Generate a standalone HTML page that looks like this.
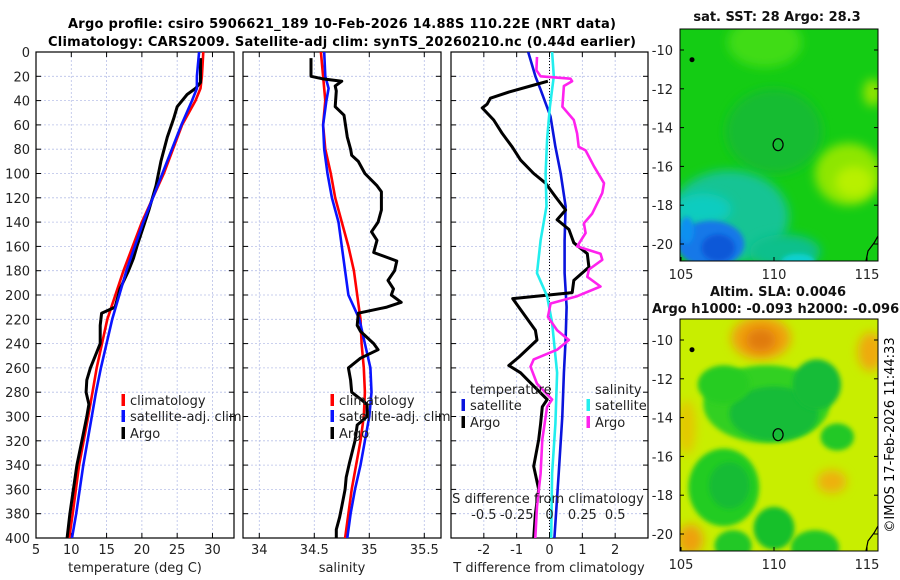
<!DOCTYPE html>
<html><head><meta charset="utf-8">
<style>
html,body{margin:0;padding:0;background:#fff;}
svg{display:block;font-family:"DejaVu Sans","Liberation Sans",sans-serif;}
</style></head>
<body>
<svg id="fig" width="900" height="580" viewBox="0 0 900 580" xmlns="http://www.w3.org/2000/svg">
<defs>
<clipPath id="cp1"><rect x="36" y="52" width="198" height="486"/></clipPath>
<clipPath id="cp2"><rect x="243" y="52" width="198" height="486"/></clipPath>
<clipPath id="cp3"><rect x="451" y="52" width="197" height="486"/></clipPath>
<clipPath id="cpm1"><rect x="680" y="29" width="198" height="232"/></clipPath>
<clipPath id="cpm2"><rect x="680" y="319" width="198" height="232"/></clipPath>
<filter id="bl" x="-50%" y="-50%" width="200%" height="200%"><feGaussianBlur stdDeviation="5"/></filter>
<filter id="bl2" x="-50%" y="-50%" width="200%" height="200%"><feGaussianBlur stdDeviation="2.5"/></filter>
</defs>
<text x="342" y="28" text-anchor="middle" font-weight="bold" font-size="13" textLength="548">Argo profile: csiro 5906621_189 10-Feb-2026 14.88S 110.22E (NRT data)</text>
<text x="342" y="46" text-anchor="middle" font-weight="bold" font-size="13" textLength="588">Climatology: CARS2009. Satellite-adj clim: synTS_20260210.nc (0.44d earlier)</text>
<g id="panels"></g>
<g id="maps"></g>
<text transform="translate(894,435) rotate(-90)" text-anchor="middle" font-size="13">©IMOS 17-Feb-2026 11:44:33</text>
</svg>
<script>
// ---- data ----
const depthClimT = [0,20,30,40,60,100,140,180,220,260,280,300,340,380,400];
const climT = [28.7,28.5,28.3,27.6,25.7,23.1,20.0,17.4,15.1,13.6,13.0,12.4,11.1,10.2,9.7];
const satT = [28.1,27.8,27.8,27.1,25.6,22.9,20.2,17.8,15.8,14.2,13.5,12.9,11.7,10.7,10.1];
const argoDepthT = [5,25,30,35,45,55,70,90,110,130,160,170,180,195,210,215,225,240,250,260,270,280,290,300,320,340,360,380,400];
const argoT = [28.3,28.3,27.6,26.4,25.0,24.5,23.6,22.7,22.0,21.0,19.3,18.8,18.1,16.9,16.2,14.3,14.1,14.1,13.4,12.7,12.2,12.1,12.5,12.2,11.5,10.8,10.3,9.8,9.4];
const climSDepth = [0,40,60,80,100,120,140,160,180,200,220,240,260,280,300,320,340,360,380,400];
const climS = [34.56,34.60,34.58,34.60,34.65,34.69,34.75,34.81,34.86,34.89,34.92,34.93,34.95,34.96,34.95,34.92,34.88,34.84,34.81,34.78];
const satSDepth = [0,20,30,40,60,80,100,120,140,160,180,200,210,220,240,260,280,300,320,340,360,380,400];
const satS = [34.59,34.60,34.63,34.61,34.58,34.59,34.62,34.66,34.72,34.75,34.78,34.81,34.86,34.91,34.96,35.01,35.02,35.00,34.96,34.92,34.87,34.83,34.80];
const argoSDepth = [5,20,22,24,28,32,45,52,70,80,85,90,100,110,115,130,140,148,155,165,172,180,188,195,200,206,210,215,225,230,240,245,252,260,270,280,290,300,307,320,338,350,360,374,383,393,400];
const argoS = [34.47,34.47,34.57,34.75,34.69,34.70,34.69,34.77,34.80,34.83,34.84,34.90,34.96,35.07,35.11,35.11,35.08,35.02,35.07,35.04,35.25,35.23,35.17,35.22,35.20,35.29,35.16,34.90,34.89,34.92,35.04,35.08,34.92,34.81,34.83,34.84,34.98,34.98,34.89,34.87,34.82,34.79,34.78,34.75,34.73,34.70,34.70];
const satTdDepth = [0,20,31,53,78,100,127,155,182,210,237,264,300,347,400];
const satTd = [-0.65,-0.43,-0.27,0.03,0.18,0.34,0.49,0.46,0.46,0.52,0.49,0.44,0.39,0.28,0.15];
const argoTdDepth = [24,28,33,38,43,46,56,67,78,89,100,108,119,130,138,146,157,166,177,188,198,203,212,229,237,251,258,264,275,286,292,306,319,341,360,380,400];
const argoTd = [-0.05,-0.58,-1.24,-1.8,-1.9,-2.05,-1.7,-1.44,-1.14,-0.88,-0.48,-0.12,0.18,0.49,0.23,0.59,0.74,1.15,1.2,0.74,0.69,-1.12,-0.88,-0.43,-0.38,-0.93,-1.24,-0.88,-0.48,-0.07,-0.22,-0.27,-0.33,-0.48,-0.33,-0.43,-0.48];
const satSdDepth = [0,20,45,72,100,127,155,182,201,223,264,306,347,400];
const satSd = [0.02,0.033,0.003,-0.018,-0.03,-0.023,-0.068,-0.095,-0.018,0.02,0.058,0.045,0.02,0.013];
const argoSdDepth = [4,15,20,22,24,28,45,56,67,78,81,94,108,116,133,141,149,160,166,171,179,185,193,201,207,218,229,237,245,253,259,273,286,292,319,347,374,400];
const argoSd = [-0.095,-0.1,-0.068,0.16,0.172,0.11,0.098,0.185,0.21,0.222,0.275,0.338,0.415,0.402,0.325,0.262,0.275,0.21,0.388,0.402,0.3,0.288,0.388,0.21,0.008,-0.012,0.058,0.148,0.058,-0.12,-0.145,-0.095,0.02,-0.018,-0.055,-0.068,-0.095,-0.108];
const depthTicks = [0,20,40,60,80,100,120,140,160,180,200,220,240,260,280,300,320,340,360,380,400];
const tTicks = [5,10,15,20,25,30];
const sTicks = [34,34.5,35,35.5];
const dTicks = [-2,-1,0,1,2];
const sdTickLabels = ["-0.5","-0.25","0","0.25","0.5"];
const sdTicks = [-0.5,-0.25,0,0.25,0.5];

const NS = "http://www.w3.org/2000/svg";
const Y0 = 52, Y1 = 538, DMAX = 400;
function yD(d){ return Y0 + d/DMAX*(Y1-Y0); }
function mk(tag, attrs, parent){
  const e = document.createElementNS(NS, tag);
  for (const k in attrs) e.setAttribute(k, attrs[k]);
  parent.appendChild(e); return e;
}
const P = document.getElementById('panels');
const panels = [
  {x0:36,x1:234,min:5,max:33.05,clip:'cp1',name:'temperature'},
  {x0:243,x1:441,min:33.852,max:35.652,clip:'cp2',name:'salinity'},
  {x0:451,x1:648,min:-3,max:3,clip:'cp3',name:'difference'}
];
function xf(p){ return v => p.x0 + (v-p.min)/(p.max-p.min)*(p.x1-p.x0); }
const x1f = xf(panels[0]), x2f = xf(panels[1]), x3f = xf(panels[2]);

function frame(p, xt, xs, labels){
  const g = mk('g', {}, P);
  
  
  depthTicks.forEach(d => {
    const l = mk('line', {x1:p.x0,x2:p.x1,y1:yD(d),y2:yD(d),stroke:'#b8c0e8','stroke-width':0.8,'stroke-dasharray':'2,2'}, g);
    
    
    mk('line',{x1:p.x0,x2:p.x0+5,y1:yD(d),y2:yD(d),stroke:'#000'},g);
    mk('line',{x1:p.x1,x2:p.x1-5,y1:yD(d),y2:yD(d),stroke:'#000'},g);
  });
  xt.forEach((v,i) => {
    const x = xs(v);
    const l = mk('line', {x1:x,x2:x,y1:Y0,y2:Y1,stroke:'#b8c0e8','stroke-width':0.8,'stroke-dasharray':'2,2'}, g);
    
    
    mk('line',{x1:x,x2:x,y1:Y1,y2:Y1-5,stroke:'#000'},g);
    mk('line',{x1:x,x2:x,y1:Y0,y2:Y0+5,stroke:'#000'},g);
    const t = mk('text',{x:x,y:554,'text-anchor':'middle','font-size':13,fill:'#222'},g);
    t.textContent = labels[i];
    
    
  });
  const r = mk('rect',{x:p.x0,y:Y0,width:p.x1-p.x0,height:Y1-Y0,fill:'none',stroke:'#000','stroke-width':1.2},g);
  
  
  return g;
}
const g1 = frame(panels[0], tTicks, x1f, tTicks.map(String));
const g2 = frame(panels[1], sTicks, x2f, sTicks.map(String));
const g3 = frame(panels[2], dTicks, x3f, dTicks.map(String));
depthTicks.forEach(d => {
  const t = mk('text',{x:30,y:yD(d)+5,'text-anchor':'end','font-size':13,fill:'#222'},P);
  t.textContent = d;
  
  
});
[['temperature (deg C)',135,'x-axis-title-temperature'],['salinity',342,'x-axis-title-salinity'],['T difference from climatology',549,'x-axis-title-t-difference']].forEach(a=>{
  const t = mk('text',{x:a[1],y:572,'text-anchor':'middle','font-size':13,fill:'#222'},P);
  t.textContent = a[0];
  
  
});
const z = mk('line',{x1:x3f(0),x2:x3f(0),y1:Y0,y2:Y1,stroke:'#000','stroke-width':1,'stroke-dasharray':'1,2'},g3);



function line(g, xs, vals, deps, color, w, name, clip){
  const pts = vals.map((v,i) => xs(v).toFixed(1)+','+yD(deps[i]).toFixed(1)).join(' ');
  const pl = mk('polyline',{points:pts,fill:'none',stroke:color,'stroke-width':w,'stroke-linejoin':'round','clip-path':'url(#'+clip+')'},g);
  
  
}
line(g1, x1f, climT, depthClimT, '#ff0000', 2.6, 'climatology-temperature-line', 'cp1');
line(g1, x1f, argoT, argoDepthT, '#000000', 3, 'argo-temperature-line', 'cp1');
line(g1, x1f, satT, depthClimT, '#0a14ff', 2.6, 'satellite-temperature-line', 'cp1');
line(g2, x2f, climS, climSDepth, '#ff0000', 2.6, 'climatology-salinity-line', 'cp2');
line(g2, x2f, satS, satSDepth, '#0a14ff', 2.6, 'satellite-salinity-line', 'cp2');
line(g2, x2f, argoS, argoSDepth, '#000000', 3, 'argo-salinity-line', 'cp2');
const sxf = v => x3f(v*4);
line(g3, x3f, satTd, satTdDepth, '#0a14dd', 2.6, 'satellite-t-diff-line', 'cp3');
line(g3, x3f, argoTd, argoTdDepth, '#000000', 3, 'argo-t-diff-line', 'cp3');
line(g3, sxf, satSd, satSdDepth, '#22eeee', 2.6, 'satellite-s-diff-line', 'cp3');
line(g3, sxf, argoSd, argoSdDepth, '#ff22ee', 2.6, 'argo-s-diff-line', 'cp3');

const sdl = mk('text',{x:548,y:503,'text-anchor':'middle','font-size':13,fill:'#222'},g3);
sdl.textContent = 'S difference from climatology';


sdTicks.forEach((v,i)=>{
  const t = mk('text',{x:sxf(v),y:519,'text-anchor':'middle','font-size':13,fill:'#222'},g3);
  t.textContent = sdTickLabels[i];
  
  
});

function legend(parent, x, y, color, label){
  const g = mk('g',{},parent);
  
  
  mk('rect',{x:x-1.5,y:y-11,width:3.5,height:12,fill:color},g);
  const t = mk('text',{x:x+7,y:y,'font-size':13,fill:'#222'},g);
  t.textContent = label;
}
legend(g1,123,405,'#ff0000','climatology');
legend(g1,123,421,'#0a14ff','satellite-adj. clim');
legend(g1,123,438,'#000','Argo');
legend(g2,332,405,'#ff0000','climatology');
legend(g2,332,421,'#0a14ff','satellite-adj. clim');
legend(g2,332,438,'#000','Argo');
const lt = mk('text',{x:470,y:394,'font-size':13,fill:'#222'},g3); lt.textContent='temperature';
 
const ls = mk('text',{x:595,y:394,'font-size':13,fill:'#222'},g3); ls.textContent='salinity';
 
legend(g3,463,410,'#0a14dd','satellite');
legend(g3,463,427,'#000','Argo');
legend(g3,588,410,'#22eeee','satellite ');
legend(g3,588,427,'#ff22ee','Argo ');

// ---- maps ----
const M = document.getElementById('maps');
const lonTicks = [105,110,115];
const latTicks = [-10,-12,-14,-16,-18,-20];
const lonX = lon => 681 + (lon-105)*18.6;
function mapAxes(top, clip, name, title1, title2, blobs, base){
  const latY = lat => top + 21 + (-10-lat)*19.4;
  const g = mk('g',{},M);
  
  
  const inner = mk('g',{'clip-path':'url(#'+clip+')'},g);
  mk('rect',{x:680,y:top,width:198,height:232,fill:base},inner);
  blobs.forEach(b=>{
    const e = mk('ellipse',{cx:lonX(b[0]),cy:latY(b[1]),rx:b[2]*18.6,ry:b[3]*19.4,fill:b[4],filter:b[5]?'url(#bl2)':'url(#bl)'},inner);
    
    
  });
  mk('polyline',{points:`866,${top+232} 868,${top+222} 874,${top+214} 878,${top+207}`,fill:'none',stroke:'#000','stroke-width':1.2},inner);
  const dot = mk('circle',{cx:692,cy:latY(-10.5),r:2.5,fill:'#000'},inner);
   
  const m = mk('ellipse',{cx:lonX(110.22),cy:latY(-14.88),rx:5,ry:6,fill:'none',stroke:'#000','stroke-width':1.2},inner);
   
  mk('rect',{x:680,y:top,width:198,height:232,fill:'none',stroke:'#000','stroke-width':1},g);
  lonTicks.forEach(l=>{
    const x = lonX(l);
    mk('line',{x1:x,x2:x,y1:top+232,y2:top+228,stroke:'#000'},g);
    const t = mk('text',{x:x,y:top+250,'text-anchor':'middle','font-size':13,fill:'#222'},g);
    t.textContent = l;
     
  });
  latTicks.forEach(l=>{
    const y = latY(l);
    mk('line',{x1:680,x2:684,y1:y,y2:y,stroke:'#000'},g);
    mk('line',{x1:878,x2:874,y1:y,y2:y,stroke:'#000'},g);
    const t = mk('text',{x:673,y:y+5,'text-anchor':'end','font-size':13,fill:'#222'},g);
    t.textContent = l;
     
  });
  const t1 = mk('text',{x:title2?778:777,y:title2?top-23:top-8,'text-anchor':'middle','font-size':13,'font-weight':'bold',fill:'#111'},g);
  t1.textContent = title1;
   
  if (title2){
    const t2 = mk('text',{x:652,y:top-6,'font-size':13,'font-weight':'bold',fill:'#111'},g);
    t2.textContent = title2;
     
  }
}
mapAxes(29,'cpm1','sst-map','sat. SST: 28 Argo: 28.3',null,[
  [109.5,-9.6,2.0,1.3,'#40dc12'],
  [110.0,-14.2,2.6,2.2,'#12bc32'],
  [114.0,-16.4,1.8,1.6,'#8ee600'],
  [114.3,-16.8,1.0,0.8,'#b8f000'],
  [115.3,-12.2,0.5,0.7,'#90e400'],
  [107.6,-18.6,3.2,2.4,'#12c494'],
  [106.2,-18.2,1.5,0.8,'#10ccc0'],
  [110.6,-20.4,1.9,0.9,'#10c08c'],
  [111.3,-20.9,0.9,0.4,'#10d0d0',1],
  [106.6,-20.0,1.8,1.2,'#1478e8',1],
  [107.0,-20.2,0.9,0.7,'#0a58d8',1],
  [105.3,-19.3,0.4,0.7,'#1090f0',1]
],'#14cc14');
mapAxes(319,'cpm2','sla-map','Altim. SLA: 0.0046','Argo h1000: -0.093 h2000: -0.096',[
  [109.3,-9.9,1.6,1.1,'#f0a010'],
  [109.3,-10.0,0.8,0.6,'#e07a10'],
  [115.2,-10.6,0.7,1.0,'#eeaa10'],
  [109.6,-13.3,3.4,2.0,'#30d020',1],
  [110.0,-13.8,2.4,1.4,'#14bc38',1],
  [112.3,-12.3,1.3,1.3,'#14bc38',1],
  [107.3,-12.3,1.4,1.0,'#28cc24',1],
  [113.4,-15.0,0.9,0.7,'#22c828',1],
  [107.3,-17.6,1.9,2.0,'#24cc24',1],
  [107.6,-17.5,1.1,1.2,'#14bc34',1],
  [110.0,-19.7,1.1,1.1,'#16c02c',1],
  [112.2,-20.7,1.3,0.9,'#22c828',1],
  [107.8,-20.6,1.0,0.8,'#22c828',1],
  [113.1,-17.3,0.8,0.6,'#eeb010'],
  [105.5,-20.3,0.7,0.8,'#eea010'],
  [105.3,-14.5,0.5,1.4,'#e4c800']
],'#c8ee00');
</script>
</body></html>
